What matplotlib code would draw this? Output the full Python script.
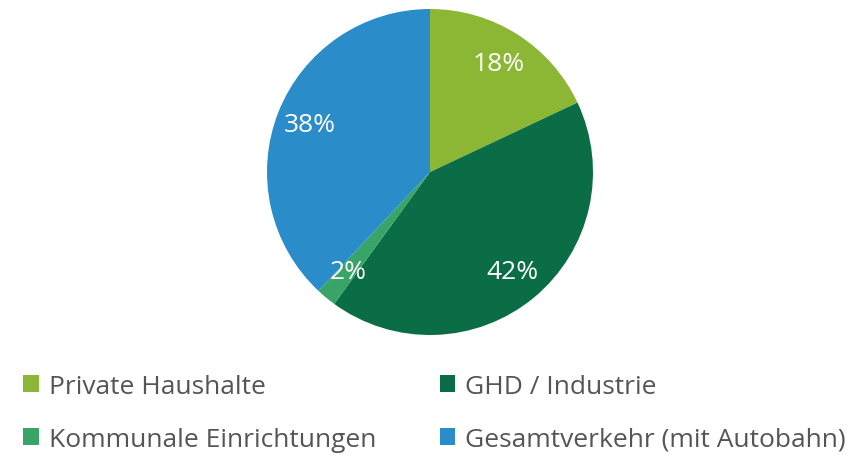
import matplotlib.pyplot as plt

labels = ["Private Haushalte", "GHD / Industrie", "Kommunale Einrichtungen", "Gesamtverkehr (mit Autobahn)"]
shares = [18, 42, 2, 38]
colors = ["#8bb734", "#0b6d45", "#38a468", "#2a8cc8"]

plt.rcParams["font.family"] = ["Open Sans", "DejaVu Sans"]

fig = plt.figure(figsize=(8.56, 4.56), dpi=100)
# pie centre ~(430, 173) px, radius ~163 px
r_px = 163
ax = fig.add_axes([(430 - r_px) / 856, 1 - (173 + r_px) / 456, 2 * r_px / 856, 2 * r_px / 456])
wedges, texts, autotexts = ax.pie(
    shares,
    colors=colors,
    startangle=90,
    counterclock=False,
    radius=1.0,
    autopct="%d%%",
    pctdistance=0.79,
    textprops=dict(color="white", fontsize=19),
    wedgeprops=dict(linewidth=0),
)
ax.set_xlim(-1, 1)
ax.set_ylim(-1, 1)
ax.set_aspect("equal")

order = [0, 2, 1, 3]
leg = fig.legend(
    [wedges[i] for i in order],
    [labels[i] for i in order],
    ncol=2,
    loc="upper left",
    bbox_to_anchor=(23 / 856, 1 - 375 / 456),
    frameon=False,
    fontsize=19,
    handlelength=0.6,
    handleheight=0.6,
    handletextpad=0.38,
    labelspacing=1.05,
    columnspacing=2.4,
    borderaxespad=0,
    borderpad=0,
)
for t in leg.get_texts():
    t.set_color("#555555")

fig.savefig("out.png", dpi=100)
